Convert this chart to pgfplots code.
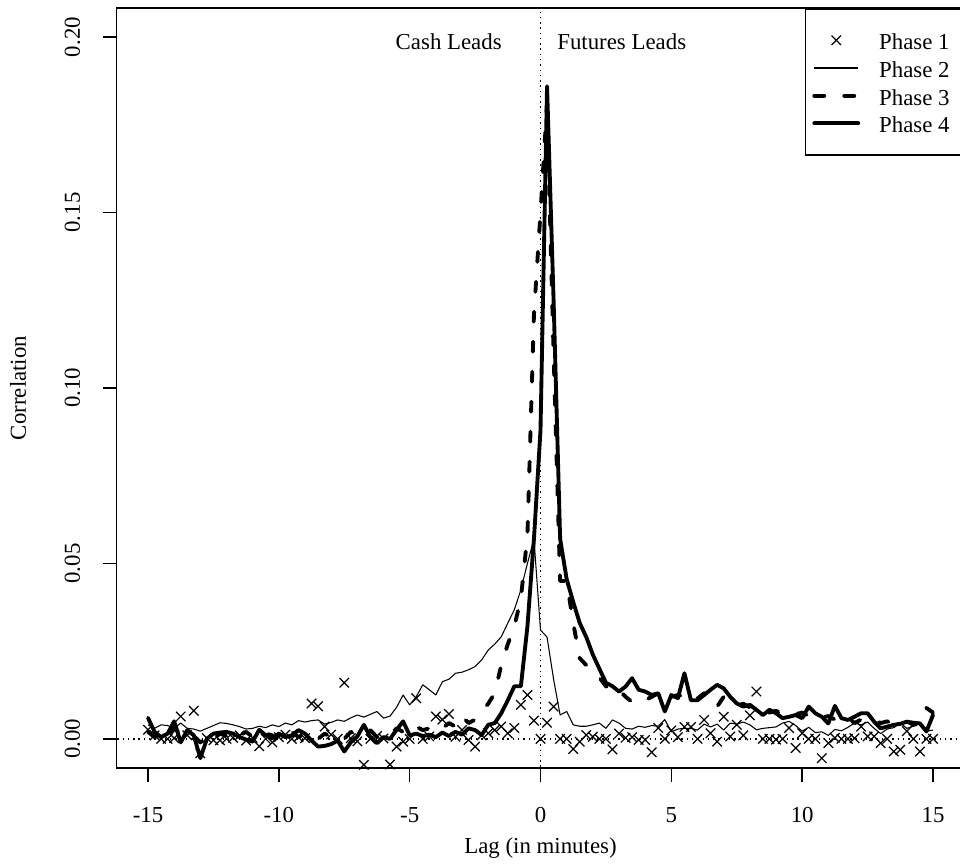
\documentclass[border=0pt]{standalone}
\usepackage{fontspec}
\setmainfont{Liberation Serif}
\usepackage{pgfplots}
\usepackage{pgfplotstable}
\pgfplotsset{compat=1.18}

% lag in minutes, cross correlations for the four phases
\pgfplotstableread{
x p1 p2 p3 p4
-15 0.0026 0.0040 0.0020 0.0060
-14.75 0.0010 0.0030 0.0005 0.0020
-14.5 0.0000 0.0040 0.0010 0.0005
-14.25 0.0000 0.0038 0.0000 0.0015
-14 0.0002 0.0030 0.0030 0.0050
-13.75 0.0064 0.0045 0.0015 -0.0010
-13.5 0.0010 0.0030 0.0000 0.0025
-13.25 0.0080 0.0028 0.0008 0.0010
-13 -0.0041 0.0022 -0.0010 -0.0055
-12.75 0.0002 0.0030 0.0010 0.0000
-12.5 -0.0004 0.0038 0.0000 0.0015
-12.25 -0.0004 0.0046 0.0015 0.0018
-12 0.0000 0.0044 0.0008 0.0020
-11.75 0.0003 0.0040 -0.0005 0.0015
-11.5 0.0010 0.0035 0.0010 0.0005
-11.25 -0.0005 0.0028 0.0020 -0.0002
-11 0.0003 0.0030 0.0005 -0.0008
-10.75 -0.0021 0.0036 0.0000 0.0026
-10.5 0.0000 0.0032 0.0015 0.0010
-10.25 -0.0010 0.0040 0.0010 0.0002
-10 0.0005 0.0035 -0.0005 0.0015
-9.75 0.0012 0.0045 0.0010 0.0005
-9.5 0.0000 0.0040 0.0020 0.0010
-9.25 0.0005 0.0052 0.0005 0.0025
-9 0.0002 0.0048 0.0015 0.0015
-8.75 0.0101 0.0052 0.0010 -0.0005
-8.5 0.0093 0.0054 0.0000 -0.0022
-8.25 0.0035 0.0042 0.0015 -0.0020
-8 0.0012 0.0047 0.0005 -0.0015
-7.75 0.0000 0.0054 0.0010 -0.0005
-7.5 0.0160 0.0050 0.0000 -0.0036
-7.25 0.0002 0.0060 0.0020 -0.0010
-7 -0.0007 0.0068 0.0010 0.0007
-6.75 -0.0074 0.0062 0.0015 0.0040
-6.5 0.0000 0.0070 0.0025 0.0005
-6.25 0.0008 0.0078 0.0005 -0.0012
-6 0.0001 0.0059 0.0015 0.0005
-5.75 -0.0073 0.0065 0.0010 0.0000
-5.5 -0.0022 0.0090 0.0030 0.0026
-5.25 -0.0008 0.0125 0.0020 0.0050
-5 0.0000 0.0097 0.0015 0.0010
-4.75 0.0116 0.0120 0.0035 0.0015
-4.5 0.0000 0.0154 0.0025 0.0008
-4.25 0.0007 0.0140 0.0030 0.0012
-4 0.0064 0.0125 0.0020 0.0005
-3.75 0.0055 0.0163 0.0030 0.0018
-3.5 0.0071 0.0170 0.0045 0.0008
-3.25 0.0006 0.0187 0.0035 0.0020
-3 0.0025 0.0190 0.0065 0.0012
-2.75 -0.0003 0.0197 0.0045 0.0030
-2.5 -0.0022 0.0206 0.0055 0.0025
-2.25 0.0010 0.0225 0.0080 0.0011
-2 0.0016 0.0253 0.0100 0.0040
-1.75 0.0025 0.0270 0.0130 0.0045
-1.5 0.0035 0.0291 0.0210 0.0073
-1.25 0.0016 0.0330 0.0270 0.0110
-1 0.0031 0.0368 0.0320 0.0150
-0.75 0.0097 0.0425 0.0400 0.0150
-0.5 0.0125 0.0500 0.0580 0.0320
-0.25 0.0052 0.0570 0.1210 0.0570
0 0.0000 0.0310 0.1500 0.0880
0.25 0.0046 0.0290 0.1810 0.1860
0.5 0.0092 0.0170 0.1100 0.1250
0.75 0.0000 0.0068 0.0450 0.0570
1 0.0000 0.0078 0.0450 0.0455
1.25 -0.0029 0.0040 0.0330 0.0390
1.5 -0.0008 0.0036 0.0230 0.0330
1.75 0.0011 0.0036 0.0210 0.0290
2 0.0006 0.0040 0.0190 0.0240
2.25 0.0000 0.0045 0.0175 0.0200
2.5 0.0000 0.0030 0.0150 0.0160
2.75 -0.0030 0.0054 0.0135 0.0150
3 0.0015 0.0045 0.0140 0.0135
3.25 0.0003 0.0030 0.0120 0.0149
3.5 0.0005 0.0028 0.0105 0.0173
3.75 -0.0003 0.0036 0.0115 0.0140
4 -0.0003 0.0033 0.0110 0.0135
4.25 -0.0038 0.0038 0.0120 0.0125
4.5 0.0031 0.0036 0.0130 0.0130
4.75 0.0000 0.0055 0.0105 0.0078
5 0.0024 0.0020 0.0120 0.0125
5.25 0.0005 0.0028 0.0125 0.0116
5.5 0.0034 0.0030 0.0120 0.0187
5.75 0.0034 0.0030 0.0130 0.0110
6 0.0000 0.0025 0.0115 0.0110
6.25 0.0054 0.0042 0.0130 0.0125
6.5 0.0016 0.0034 0.0097 0.0140
6.75 -0.0008 0.0042 0.0092 0.0154
7 0.0063 0.0025 0.0120 0.0144
7.25 0.0007 0.0045 0.0110 0.0120
7.5 0.0040 0.0042 0.0095 0.0101
7.75 0.0010 0.0048 0.0100 0.0092
8 0.0067 0.0040 0.0090 0.0097
8.25 0.0135 0.0026 0.0085 0.0083
8.5 0.0000 0.0030 0.0080 0.0068
8.75 0.0000 0.0032 0.0075 0.0083
9 -0.0002 0.0034 0.0080 0.0073
9.25 0.0000 0.0045 0.0070 0.0059
9.5 0.0031 0.0050 0.0065 0.0063
9.75 -0.0026 0.0038 0.0070 0.0068
10 0.0016 0.0022 0.0075 0.0059
10.25 0.0000 0.0033 0.0065 0.0092
10.5 0.0000 0.0018 0.0070 0.0073
10.75 -0.0055 0.0020 0.0060 0.0063
11 -0.0012 0.0010 0.0065 0.0044
11.25 0.0003 0.0027 0.0055 0.0094
11.5 0.0000 0.0023 0.0050 0.0059
11.75 0.0000 0.0033 0.0060 0.0054
12 0.0002 0.0045 0.0045 0.0063
12.25 0.0035 0.0040 0.0055 0.0073
12.5 0.0007 0.0048 0.0050 0.0073
12.75 0.0007 0.0030 0.0055 0.0049
13 -0.0012 0.0015 0.0045 0.0030
13.25 0.0000 0.0028 0.0050 0.0035
13.5 -0.0036 0.0032 0.0040 0.0040
13.75 -0.0031 0.0045 0.0045 0.0043
14 0.0022 0.0030 0.0050 0.0049
14.25 0.0000 0.0036 0.0040 0.0046
14.5 -0.0036 0.0044 0.0045 0.0044
14.75 0.0000 0.0022 0.0088 0.0021
15 0.0000 0.0025 0.0075 0.0068
}\lagdata

\newcommand{\padr}{\rule{0.14cm}{0pt}}

\begin{document}
\begin{tikzpicture}[font=\fontsize{13}{15.6}\selectfont]
\begin{axis}[
name=ax,
scale only axis,
width=16.956cm,
height=15.2cm,
xmin=-16.2, xmax=16.2,
ymin=-0.0083, ymax=0.2083,
axis line style={line width=0.9pt},
every tick/.style={black, line width=0.9pt},
tick align=outside,
tick pos=left,
major tick length=0.28cm,
xtick={-15,-10,-5,0,5,10,15},
xticklabels={-15,-10,-5,0,5,10,15},
ytick={0,0.05,0.1,0.15,0.2},
yticklabels={0.00,0.05,0.10,0.15,0.20},
xticklabel style={anchor=north, inner sep=0pt, yshift=-0.5cm},
yticklabel style={xshift=-0.44cm, rotate=90, anchor=south, inner sep=0pt},
xlabel={Lag (in minutes)},
ylabel={Correlation},
xlabel style={at={(axis description cs:0.5,-0.1053)}, anchor=center},
ylabel style={at={(axis description cs:-0.1163,0.5)}, anchor=center},
legend cell align=left,
legend image code/.code={\draw[mark repeat=2,mark phase=2,#1] plot coordinates {(0cm,0cm) (0.44cm,0cm) (0.88cm,0cm)};},
legend style={at={(1,1)}, anchor=north east, draw=black, line width=0.9pt, fill=white,
  inner xsep=0.14cm, inner ysep=0.42cm, row sep=0.134cm, column sep=0.38cm,
  nodes={inner sep=0pt, text height=0.40cm, text depth=0.02cm}},
]
\addplot[forget plot, line width=0.8pt, dash pattern=on 0.8pt off 2.2pt] coordinates {(0,-0.02) (0,0.25)};
\addplot[forget plot, line width=0.8pt, dash pattern=on 0.8pt off 2.2pt] coordinates {(-20,0) (20,0)};
\addplot[only marks, mark=x, mark size=3.8pt, mark options={line width=0.7pt}] table[x=x, y=p1] {\lagdata};
\addlegendentry{Phase 1\padr}
\addplot[line width=0.6pt, line join=round] table[x=x, y=p2] {\lagdata};
\addlegendentry{Phase 2\padr}
\addplot[line width=2.2pt, line cap=round, line join=round, dash pattern=on 0.2cm off 0.4cm] table[x=x, y=p3] {\lagdata};
\addlegendentry{Phase 3\padr}
\addplot[line width=2.2pt, line cap=round, line join=round] table[x=x, y=p4] {\lagdata};
\addlegendentry{Phase 4\padr}
\node[anchor=east, inner sep=0pt] at (axis cs:-1.47,0.1986) {Cash Leads};
\node[anchor=west, inner sep=0pt] at (axis cs:0.63,0.1986) {Futures Leads};
\end{axis}
\pgfresetboundingbox
\path[use as bounding box] ([xshift=-2.332cm,yshift=-1.96cm]ax.south west) rectangle ([xshift=-0.088cm,yshift=0.16cm]ax.north east);
\end{tikzpicture}
\end{document}
